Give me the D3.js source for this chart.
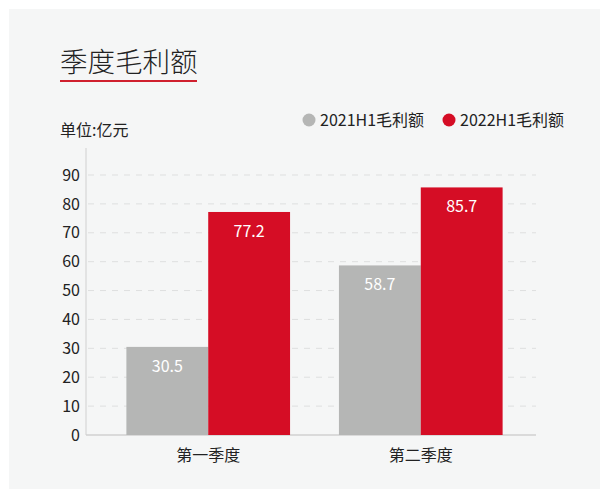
<!DOCTYPE html>
<html><head><meta charset="utf-8">
<script src="https://cdn.jsdelivr.net/npm/d3@7"></script>
<style>
html,body{margin:0;padding:0;background:#fff;}
svg{display:block;font-family:"Noto Sans CJK SC","Noto Sans",sans-serif;}
</style></head><body>
<svg id="c" width="600" height="489"></svg>
<script>
const title = "季度毛利额";
const unitLabel = "单位:亿元";
const categories = ["第一季度", "第二季度"];
const seriesNames = ["2021H1毛利额", "2022H1毛利额"];
const series2021 = [30.5, 58.7];
const series2022 = [77.2, 85.7];
const yTicks = [0, 10, 20, 30, 40, 50, 60, 70, 80, 90];
const colors = ["#b5b6b5", "#d50d25"];

const svg = d3.select("#c");
svg.append("rect").attr("x", 9).attr("y", 9).attr("width", 591).attr("height", 480).attr("fill", "#f5f6f6");

svg.append("text").attr("x", 60).attr("y", 72).attr("font-size", 27.5).attr("font-weight", 300)
  .attr("fill", "#222").text(title);
svg.append("rect").attr("x", 60).attr("y", 80).attr("width", 137).attr("height", 2).attr("fill", "#d0202e");

svg.append("text").attr("x", 60).attr("y", 136).attr("font-size", 16).attr("fill", "#222").text(unitLabel);

const y = d3.scaleLinear().domain([0, 90]).range([435, 175]);
const x = d3.scaleBand().domain(categories).range([86, 543]).paddingInner(0.23).paddingOuter(0.19);
const xs = d3.scaleBand().domain([0, 1]).range([0, x.bandwidth()]);

// gridlines
svg.append("g").selectAll("line").data(yTicks.filter(d => d > 0)).join("line")
  .attr("x1", 88).attr("x2", 536).attr("y1", d => y(d)).attr("y2", d => y(d))
  .attr("stroke", "#dedfdf").attr("stroke-width", 1).attr("stroke-dasharray", "6,6");

// y axis
const yAxis = d3.axisLeft(y).tickValues(yTicks).tickSize(0).tickPadding(6);
const gy = svg.append("g").attr("transform", "translate(86,0)").call(yAxis);
gy.select(".domain").attr("stroke", "#d0d0d0").attr("d", "M0,435V148");
gy.selectAll("text").attr("font-size", 16).attr("fill", "#222").attr("font-family", "Noto Sans CJK SC");

// x axis
const xAxis = d3.axisBottom(x).tickSize(0).tickPadding(15);
const gx = svg.append("g").attr("transform", "translate(0,435)").call(xAxis);
gx.select(".domain").attr("stroke", "#d0d0d0").attr("stroke-width", 1.5).attr("d", "M86,0H536");
gx.selectAll("text").attr("font-size", 16).attr("fill", "#222").attr("font-family", "Noto Sans CJK SC");

const data = categories.map((c, i) => ({ c, vals: [series2021[i], series2022[i]] }));
const groups = svg.append("g").selectAll("g").data(data).join("g")
  .attr("transform", d => `translate(${x(d.c)},0)`);
groups.selectAll("rect").data(d => d.vals).join("rect")
  .attr("x", (d, i) => xs(i)).attr("width", xs.bandwidth())
  .attr("y", d => y(d)).attr("height", d => y(0) - y(d))
  .attr("fill", (d, i) => colors[i]);
groups.selectAll("text.v").data(d => d.vals).join("text").attr("class", "v")
  .attr("x", (d, i) => xs(i) + xs.bandwidth() / 2).attr("y", d => y(d) + 25)
  .attr("text-anchor", "middle").attr("font-size", 16).attr("fill", "#fff")
  .text(d => d.toFixed(1));

// legend
const legX = [309, 449];
const leg = svg.append("g").selectAll("g").data(seriesNames).join("g")
  .attr("transform", (d, i) => `translate(${legX[i]},120)`);
leg.append("circle").attr("r", 6.5).attr("fill", (d, i) => colors[i]);
leg.append("text").attr("x", 11).attr("y", 5.5).attr("font-size", 16).attr("fill", "#222").text(d => d);
</script></body></html>
